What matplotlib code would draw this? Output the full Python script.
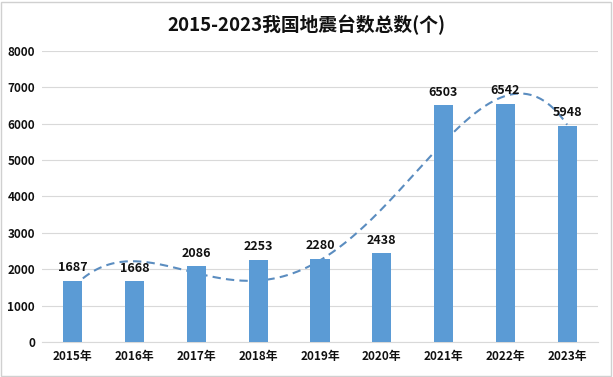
import numpy as np
import matplotlib
matplotlib.use("Agg")
import matplotlib.pyplot as plt
from matplotlib.patches import Rectangle

plt.rcParams['font.family'] = ['Noto Sans CJK SC', 'DejaVu Sans']

years = ['2015年', '2016年', '2017年', '2018年', '2019年',
         '2020年', '2021年', '2022年', '2023年']
counts = [1687, 1668, 2086, 2253, 2280, 2438, 6503, 6542, 5948]

bar_color = '#5B9BD5'
trend_color = '#5B8DC0'

fig = plt.figure(figsize=(6.13, 3.77), dpi=100)
ax = fig.add_axes([0.0685, 0.093, 0.907, 0.772])

x = np.arange(len(years))
ax.bar(x, counts, width=0.31, color=bar_color, zorder=3)

# 4th order polynomial trendline fitted to the bar values (as in Excel)
coef = np.polyfit(x + 1, counts, 4)
xs = np.linspace(0, len(years) - 1, 300)
ax.plot(xs, np.polyval(coef, xs + 1), ls=(0, (4, 2.5)), color=trend_color,
        lw=1.5, zorder=2)

for xi, v in zip(x, counts):
    ax.text(xi, v + 180, str(v), ha='center', va='bottom', fontsize=9,
            fontweight='bold', color='#111111', zorder=4)

ax.set_xlim(-0.5, len(years) - 0.5)
ax.set_ylim(0, 8000)
ax.set_yticks(range(0, 8001, 1000))
ax.set_xticks(x)
ax.set_xticklabels(years)
ax.tick_params(length=0, labelsize=8.5, colors='#111111')
for lbl in ax.get_xticklabels() + ax.get_yticklabels():
    lbl.set_fontweight('bold')
ax.tick_params(axis='x', pad=6)
ax.tick_params(axis='y', pad=5)
ax.grid(axis='y', color='#D9D9D9', lw=0.8, zorder=0)
for s in ['top', 'right', 'left']:
    ax.spines[s].set_visible(False)
ax.spines['bottom'].set_color('#D9D9D9')

fig.text(0.5, 0.935, '2015-2023我国地震台数总数(个)', ha='center', va='center',
         fontsize=13.5, fontweight='bold', color='#111111')

fig.patches.append(Rectangle((0.002, 0.003), 0.995, 0.993, transform=fig.transFigure,
                             fill=False, edgecolor='#D0D0D0', lw=1))

fig.savefig('out.png', dpi=100)
